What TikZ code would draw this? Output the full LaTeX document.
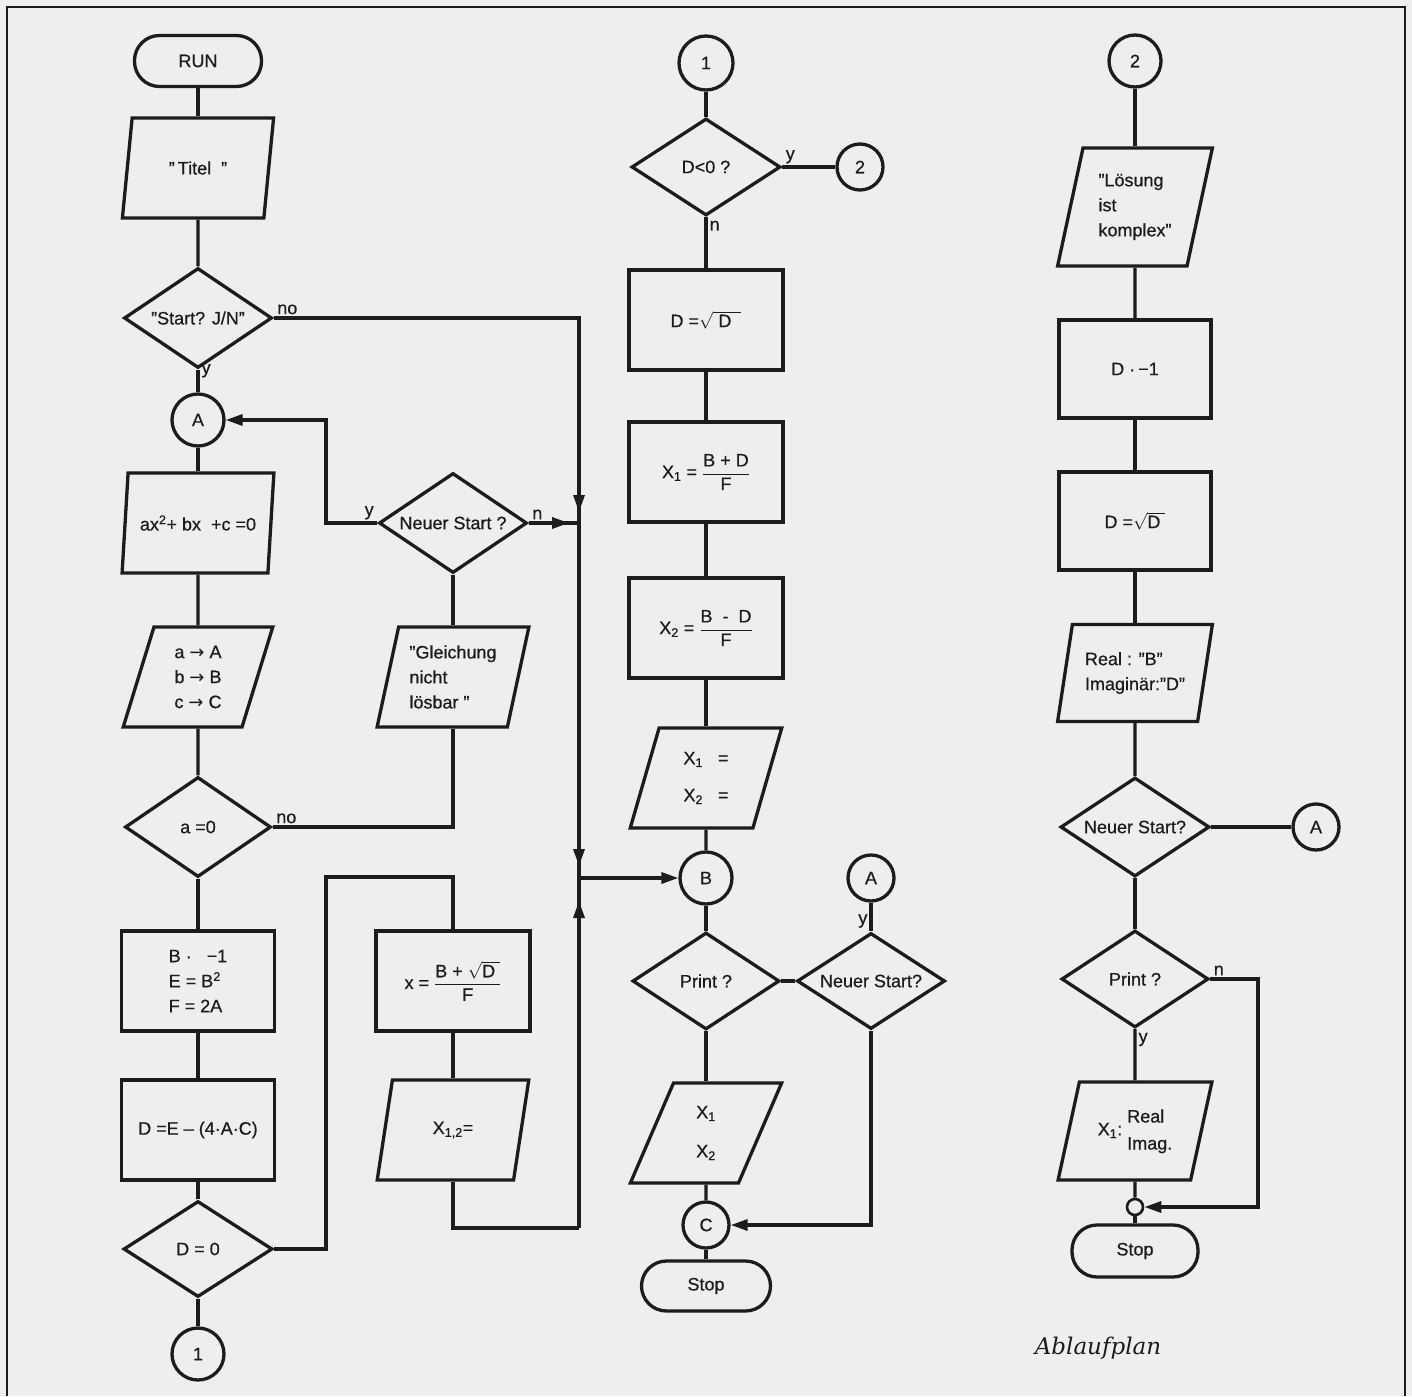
\documentclass[tikz,border=0pt]{standalone}
\usepackage{fontspec}
\setsansfont{Liberation Sans}[FakeBold=0.6]
\newfontfamily\dejavu{DejaVu Sans}
\newfontfamily\ablfont{DejaVu Serif}
\usetikzlibrary{shapes.geometric,arrows.meta}
\definecolor{paper}{RGB}{238,238,236}
\definecolor{ink}{RGB}{28,28,28}
\newcommand{\fr}[2]{$\displaystyle\frac{\hbox{#1}}{\hbox{#2}}$}
\newcommand{\rt}[1]{$\sqrt{\hbox{#1}}$}
\begin{document}
\begin{tikzpicture}[x=1pt,y=-1pt,
  base/.style={draw=ink, line width=3.3pt, inner sep=2pt, align=center, text=ink,
    font=\sffamily\fontsize{18}{25}\selectfont},
  term/.style={base, rectangle, rounded corners=25pt, minimum width=127pt, minimum height=51pt},
  proc/.style={base, rectangle, minimum width=153pt, minimum height=100pt},
  io/.style={base, trapezium, trapezium left angle=75, trapezium right angle=105,
    trapezium stretches=true, minimum width=152pt, minimum height=100pt},
  dec/.style={base, diamond, aspect=1.5, minimum width=148pt, minimum height=100pt, inner sep=0pt},
  conn/.style={base, circle, minimum size=52pt, inner sep=0pt},
  lbl/.style={font=\sffamily\fontsize{18}{20}\selectfont, text=ink, inner sep=2pt},
  line/.style={draw=ink, line width=3.3pt},
  arr/.style={line, -{Triangle[length=17pt,width=11pt]}}
]
\fill[paper] (0,0) rectangle (1412,1396);
\useasboundingbox (0,0) rectangle (1412,1396);
\draw[ink, line width=2.6pt] (7,1396) -- (7,7) -- (1405,7) -- (1405,1396);

% ---------- left column ----------
\node[term] (run) at (198,61) {RUN};
\node[io] (titel) at (198,168) {''\,Titel\ \ ''};
\node[dec] (start) at (198,318) {''Start? J/N''};
\node[conn] (a1) at (198,420) {A};
\node[io] (eq) at (198,523) {ax\textsuperscript{2}+ bx\ \ +c =0};
\node[io, minimum width=150pt] (abc) at (198,677) {a {\dejavu →} A\\b {\dejavu →} B\\c {\dejavu →} C};
\node[dec, minimum width=146pt] (a0) at (198,827) {a =0};
\node[proc, align=left] (b1) at (198,981) {B ·\ \ \ −1\\E = B\textsuperscript{2}\\F = 2A};
\node[proc] (b2) at (198,1130) {D =E – (4·A·C)};
\node[dec, minimum width=149pt, minimum height=96pt] (d0) at (198,1249) {D = 0};
\node[conn] (c1b) at (198,1354) {1};

% ---------- middle-left column ----------
\node[dec] (ns1) at (453,523) {Neuer Start ?};
\node[io, align=left] (gl) at (453,677) {''Gleichung\\nicht\\lösbar ''};
\node[proc, minimum width=154pt] (xb) at (453,981) {x = \fr{B + \rt{D\ }}{F}};
\node[io] (x12) at (453,1130) {X\textsubscript{1,2}=};

\coordinate (t1) at (579,318);
\coordinate (j1) at (579,523);
\coordinate (j2) at (579,878);
\coordinate (t2) at (579,1228);
\coordinate (k1) at (326,523);
\coordinate (k2) at (326,877);

% ---------- middle column ----------
\node[conn, minimum size=54pt] (c1) at (706,63) {1};
\node[dec, minimum width=149pt, minimum height=97pt] (dl0) at (706,167) {D<0 ?};
\node[conn, minimum size=46pt] (c2) at (860,167) {2};
\node[proc, minimum width=154pt] (dsq) at (706,320) {D =\rt{\ D\ \ }};
\node[proc, minimum width=154pt] (x1b) at (706,472) {X\textsubscript{1} = \fr{B + D}{F}};
\node[proc, minimum width=154pt] (x2b) at (706,628) {X\textsubscript{2} = \fr{B\ \ -\ \ D}{F}};
\node[io] (outp) at (706,778) {X\textsubscript{1}\ \ \ =\\[12pt]X\textsubscript{2}\ \ \ =};
\node[conn] (bb) at (706,878) {B};
\node[dec, minimum width=147pt, minimum height=97pt] (pr2) at (706,981) {Print ?};
\node[dec, minimum height=96pt] (ns2) at (871,981) {Neuer Start?};
\node[conn, minimum size=46pt] (a2) at (871,878) {A};
\node[io] (xxp) at (706,1133) {X\textsubscript{1}\\[14pt]X\textsubscript{2}};
\node[conn, minimum size=46pt] (cc) at (706,1225) {C};
\node[term, minimum width=129pt, minimum height=50pt] (stop2) at (706,1286) {Stop};

% ---------- right column ----------
\node[conn] (c2r) at (1135,61) {2};
\node[io, align=left, minimum width=155pt, minimum height=118pt] (loes) at (1135,207) {''Lösung\\ist\\komplex''};
\node[proc, minimum width=152pt, minimum height=98pt] (dm1) at (1135,369) {D ·\,−1};
\node[proc, minimum width=152pt, minimum height=98pt] (dsq2) at (1135,521) {D =\rt{D\ }};
\node[io, align=left, minimum width=155pt, minimum height=97pt] (ri) at (1135,673) {Real : ''B''\\Imaginär:''D''};
\node[dec, minimum width=149pt, minimum height=99pt] (ns3) at (1135,827) {Neuer Start?};
\node[conn, minimum size=46pt] (a3) at (1316,827) {A};
\node[dec, minimum width=147pt, minimum height=97pt] (pr3) at (1135,979) {Print ?};
\node[io, minimum width=154pt, minimum height=98pt] (x1p) at (1135,1131)
  {X\textsubscript{1}:\ \begin{tabular}[c]{@{}l@{}}Real\\[2pt]Imag.\end{tabular}};
\node[base, circle, minimum size=16pt, inner sep=0pt, line width=2.6pt] (sc) at (1135,1207) {};
\node[term, minimum width=126pt, minimum height=52pt] (stop3) at (1135,1251) {Stop};
\coordinate (k3) at (1258,1207);
\node[font=\ablfont\itshape\fontsize{23}{28}\selectfont, text=ink] (abl) at (1098,1348) {Ablaufplan};

% ---------- connectors: left ----------
\draw[line] (run) -- (titel);
\draw[line] (titel) -- (start);
\draw[line] (start) -- node[lbl, pos=0.05, right] {y} (a1);
\draw[line] (a1) -- (eq);
\draw[line] (eq) -- (abc);
\draw[line] (abc) -- (a0);
\draw[line] (a0) -- (b1);
\draw[line] (b1) -- (b2);
\draw[line] (b2) -- (d0);
\draw[line] (d0) -- (c1b);
\draw[line] (start.east) node[lbl, above right] {no} -- (t1) -- (t2);
\draw[arr, shorten >=11pt] (t1) -- (j1);
\draw[arr, shorten >=12pt] (j1) -- (j2);
\draw[line] (ns1.east) node[lbl, above right] {n} -- (j1);
\draw[arr, shorten >=10pt] (ns1.east) -- (j1);
\draw[arr] (ns1.west) node[lbl, above left] {y} -- (k1) |- (a1);
\draw[line] (ns1) -- (gl);
\draw[line] (a0.east) node[lbl, above right] {no} -| (gl.south);
\draw[line] (d0.east) -| (k2) -| (xb.north);
\draw[line] (xb) -- (x12);
\draw[line] (x12.south) |- (t2);
\draw[arr, shorten >=23pt] (t2) -- (j2);
\draw[arr] (j2) -- (bb);

% ---------- connectors: middle ----------
\draw[line] (c1) -- (dl0);
\draw[line] (dl0.east) node[lbl, above right] {y} -- (c2);
\draw[line] (dl0.south) node[lbl, below right] {n} -- (dsq);
\draw[line] (dsq) -- (x1b);
\draw[line] (x1b) -- (x2b);
\draw[line] (x2b) -- (outp);
\draw[line] (outp) -- (bb);
\draw[line] (bb) -- (pr2);
\draw[line] (pr2.east) -- (ns2.west);
\draw[line] (a2) -- (ns2.north) node[lbl, above left] {y};
\draw[line] (pr2) -- (xxp);
\draw[line] (xxp) -- (cc);
\draw[line] (cc) -- (stop2);
\draw[arr] (ns2.south) |- (cc);

% ---------- connectors: right ----------
\draw[line] (c2r) -- (loes);
\draw[line] (loes) -- (dm1);
\draw[line] (dm1) -- (dsq2);
\draw[line] (dsq2) -- (ri);
\draw[line] (ri) -- (ns3);
\draw[line] (ns3) -- (a3);
\draw[line] (ns3) -- (pr3);
\draw[line] (pr3.south) node[lbl, below right] {y} -- (x1p);
\draw[line] (x1p) -- (sc);
\draw[line] (sc) -- (stop3);
\draw[arr] (pr3.east) node[lbl, above right] {n} -| (k3) -- (sc);
\end{tikzpicture}
\end{document}
